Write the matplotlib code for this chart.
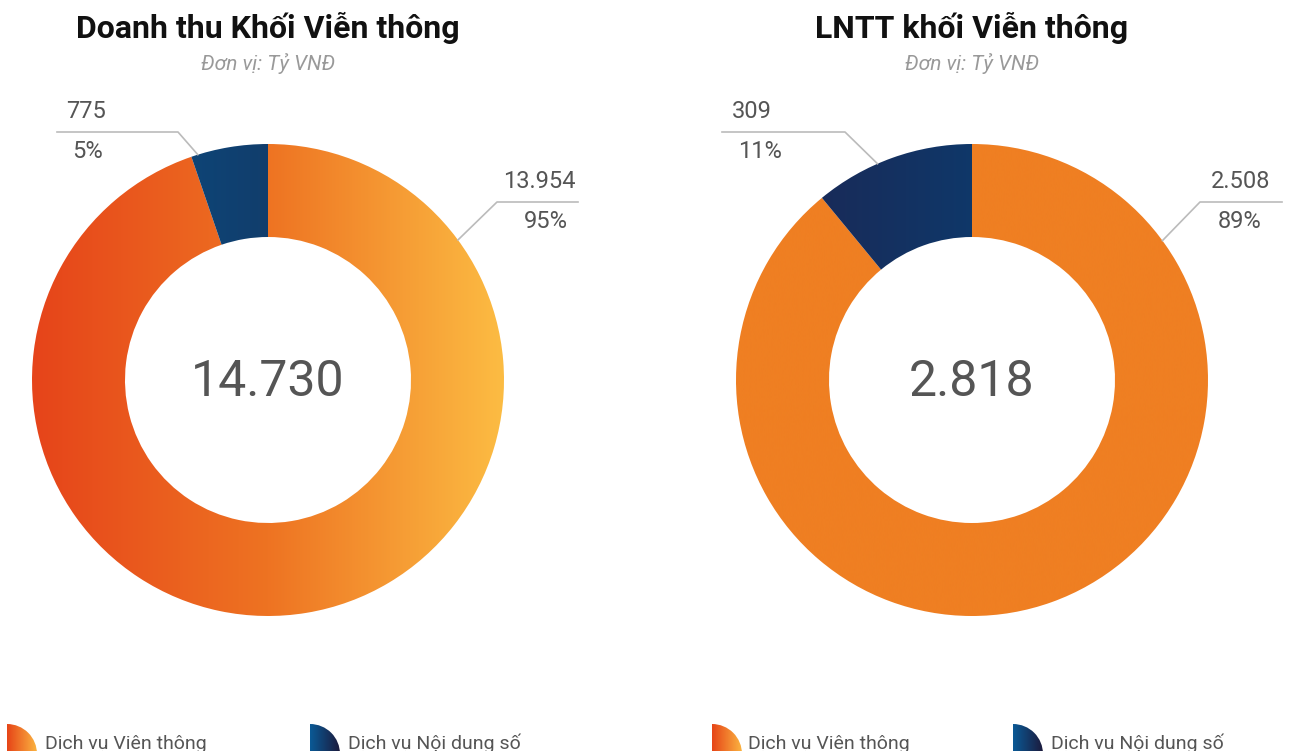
import numpy as np
import matplotlib.pyplot as plt
from matplotlib.colors import LinearSegmentedColormap
from matplotlib.patches import Wedge

# data
segments = ['Dịch vụ Viên thông', 'Dịch vụ Nội dung số']
titles = ['Doanh thu Khối Viễn thông', 'LNTT khối Viễn thông']
subtitle = 'Đơn vị: Tỷ VNĐ'
revenue = [13954, 775]
profit = [2508, 309]
totals = [14730, 2818]
percents = [[95, 5], [89, 11]]

W, H = 1299, 751
FONT = ['Roboto', 'DejaVu Sans']
plt.rcParams['font.family'] = FONT


def Y(y):  # pixel row -> data y (y up)
    return H - y


def fmt(v):
    return f"{v:,}".replace(',', '.')


def gradient_fill(ax, patch, colors, x0, x1, y0, y1, z=2):
    cmap = LinearSegmentedColormap.from_list('g', colors)
    grad = np.linspace(0, 1, 256).reshape(1, -1)
    im = ax.imshow(grad, cmap=cmap, extent=[x0, x1, y0, y1], aspect='auto',
                   interpolation='bicubic', zorder=z)
    im.set_clip_path(patch)
    return im


fig = plt.figure(figsize=(W / 100, H / 100), dpi=100)
ax = fig.add_axes([0, 0, 1, 1])

charts = [
    dict(values=revenue, total=totals[0], pct=percents[0], title=titles[0], cx=268,
         fills=[['#E6441A', '#EE7322', '#FCBC43'], ['#06518A', '#1D2A4E']],
         # label layout: (anchor angle, elbow x, end x, text x, ha)
         labels=[(36.4, 497, 578, 576, 'right'), (107.3, 178, 57, 66, 'left')]),
    dict(values=profit, total=totals[1], pct=percents[1], title=titles[1], cx=972,
         fills=[['#EF7F22', '#EF7F22'], ['#1E2450', '#004B82']],
         labels=[(36.2, 1200, 1282, 1270, 'right'), (113.6, 845, 722, 732, 'left')]),
]

R, WIDTH, CY = 236, 93, 380

for ch in charts:
    vals = ch['values']
    cx = ch['cx']
    wedges, _ = ax.pie(vals, center=(cx, Y(CY)), radius=R, startangle=90,
                       counterclock=False, frame=True,
                       wedgeprops=dict(width=WIDTH, linewidth=0))
    for w, cols in zip(wedges, ch['fills']):
        w.set_facecolor('none')
        gradient_fill(ax, w, cols, cx - R, cx + R, Y(CY) - R, Y(CY) + R)

    ax.text(cx, Y(CY + 2), fmt(ch['total']), ha='center', va='center',
            fontsize=36, color='#555555', zorder=5)
    ax.text(cx, Y(28), ch['title'], ha='center', va='center', fontsize=23,
            fontweight='bold', color='#111111')
    ax.text(cx, Y(63), subtitle, ha='center', va='center', fontsize=15,
            style='italic', color='#999999')

    for v, p, (ang, ex, endx, tx, ha) in zip(vals, ch['pct'], ch['labels']):
        a = np.deg2rad(ang)
        px, py = cx + R * np.cos(a), Y(CY) + R * np.sin(a)
        ly = Y(132) if ha == 'left' else Y(202)
        ax.plot([px, ex, endx], [py, ly, ly], color='#BBBBBB', lw=1.2, zorder=4)
        ax.text(tx, ly + 21, fmt(v), ha=ha, va='center', fontsize=17,
                color='#555555')
        ax.text(tx + (6 if ha == 'left' else -8), ly - 20, f"{p}%", ha=ha,
                va='center', fontsize=17, color='#555555')

# legends
legend_cols = [['#E64417', '#FBB441'], ['#0A5A96', '#1C1A3C']]
legend_pos = [[(7, 45), (310, 348)], [(712, 748), (1013, 1051)]]
for pos in legend_pos:
    for name, cols, (mx, tx) in zip(segments, legend_cols, pos):
        wdg = Wedge((mx, Y(754)), 30, -90, 90, facecolor='none', lw=0)
        ax.add_patch(wdg)
        gradient_fill(ax, wdg, cols, mx, mx + 30, Y(754) - 30, Y(754) + 30)
        ax.text(tx, Y(749), name, ha='left', va='baseline', fontsize=14,
                color='#555555')

ax.set_xlim(0, W)
ax.set_ylim(0, H)
ax.set_aspect('equal')
ax.axis('off')
fig.savefig('out.png', dpi=100, facecolor='white')
